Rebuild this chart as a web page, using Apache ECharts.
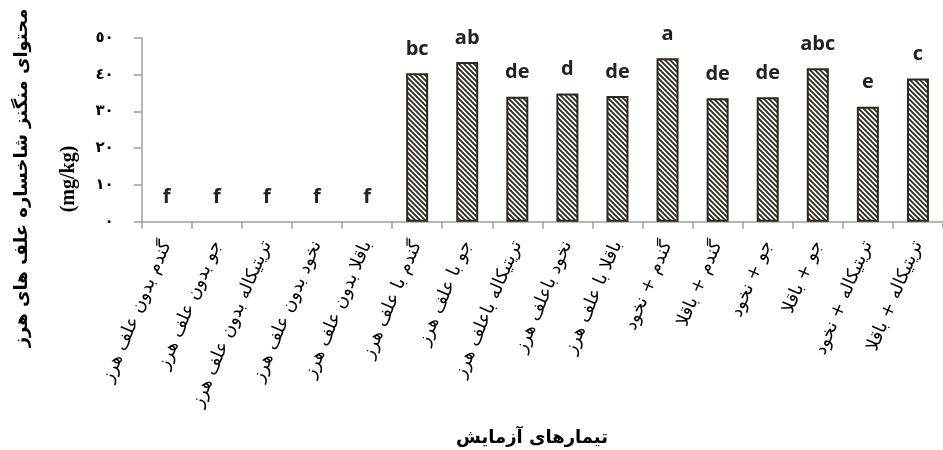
<!DOCTYPE html>
<html>
<head>
<meta charset="utf-8">
<script src="https://cdn.jsdelivr.net/npm/echarts@6/dist/echarts.min.js"></script>
<style>
html,body{margin:0;padding:0;background:#fff;}
#chart{width:943px;height:450px;}
</style>
</head>
<body>
<div id="chart"></div>
<script>
var categories = [
  'گندم بدون علف هرز',
  'جو بدون علف هرز',
  'تریتیکاله بدون علف هرز',
  'نخود بدون علف هرز',
  'باقلا بدون علف هرز',
  'گندم با علف هرز',
  'جو با علف هرز',
  'تریتیکاله باعلف هرز',
  'نخود باعلف هرز',
  'باقلا با علف هرز',
  'گندم + نخود',
  'گندم + باقلا',
  'جو + نخود',
  'جو + باقلا',
  'تریتیکاله + نخود',
  'تریتیکاله + باقلا'
];
var values = [0, 0, 0, 0, 0, 40.4, 43.5, 34.0, 34.9, 34.2, 44.5, 33.6, 33.9, 41.8, 31.3, 39.0];
var letters = ['f', 'f', 'f', 'f', 'f', 'bc', 'ab', 'de', 'd', 'de', 'a', 'de', 'de', 'abc', 'e', 'c'];
var yTickLabels = ['٠', '١٠', '٢٠', '٣٠', '٤٠', '٥٠'];
var yTitle = 'محتوای منگنز شاخساره علف های هرز';
var yUnit = '(mg/kg)';
var xTitle = 'تیمارهای آزمایش';

// hatch pattern
var pc = document.createElement('canvas');
pc.width = 5; pc.height = 5;
var g = pc.getContext('2d');
g.fillStyle = '#ffffff';
g.fillRect(0, 0, 5, 5);
g.strokeStyle = '#2b281e';
g.lineWidth = 1.8;
g.beginPath();
g.moveTo(-1, -1); g.lineTo(6, 6);
g.moveTo(-1, 4); g.lineTo(1, 6);
g.moveTo(4, -1); g.lineTo(6, 1);
g.stroke();
var hatch = { image: pc, repeat: 'repeat' };

var barData = values.map(function (v, i) {
  var item = { value: v };
  if (v === 0) {
    item.itemStyle = { color: 'transparent', borderWidth: 0 };
  }
  return item;
});

var chart = echarts.init(document.getElementById('chart'));
chart.setOption({
  animation: false,
  backgroundColor: '#ffffff',
  grid: { left: 141.7, top: 38, width: 806, height: 183.7 },
  xAxis: {
    type: 'category',
    data: categories,
    axisLine: { lineStyle: { color: '#a0a0a0', width: 1.5 } },
    axisTick: { show: true, length: 7, lineStyle: { color: '#a0a0a0', width: 1.5 } },
    axisLabel: {
      interval: 0,
      rotate: 67,
      margin: 20,
      fontFamily: 'DejaVu Sans',
      fontSize: 18,
      color: '#000'
    }
  },
  yAxis: {
    type: 'value',
    min: 0,
    max: 50,
    interval: 10,
    splitLine: { show: false },
    axisLine: { show: true, lineStyle: { color: '#a0a0a0', width: 1.5 } },
    axisTick: { show: true, length: 8, lineStyle: { color: '#a0a0a0', width: 1.5 } },
    axisLabel: {
      margin: 28,
      fontFamily: 'DejaVu Sans',
      fontWeight: 'bold',
      fontSize: 15,
      color: '#000',
      formatter: function (v) { return yTickLabels[Math.round(v / 10)]; }
    }
  },
  series: [{
    type: 'bar',
    data: barData,
    barWidth: 22,
    itemStyle: { color: hatch, borderColor: '#2b281e', borderWidth: 2 },
    label: {
      show: true,
      position: 'top',
      distance: 14,
      fontFamily: 'Open Sans',
      fontWeight: 'bold',
      fontSize: 20,
      color: '#222',
      formatter: function (p) { return letters[p.dataIndex]; }
    }
  }],
  graphic: [
    {
      type: 'text', x: 22, y: 178, rotation: Math.PI / 2,
      style: { text: yTitle, font: 'bold 18px "DejaVu Sans"', fill: '#000', align: 'center', verticalAlign: 'middle' }
    },
    {
      type: 'text', x: 69, y: 179, rotation: Math.PI / 2,
      style: { text: yUnit, font: 'bold 20px "Liberation Serif"', fill: '#000', align: 'center', verticalAlign: 'middle' }
    },
    {
      type: 'text', x: 532, y: 438,
      style: { text: xTitle, font: 'bold 18px "DejaVu Sans"', fill: '#000', align: 'center', verticalAlign: 'middle' }
    }
  ]
});
</script>
</body>
</html>
